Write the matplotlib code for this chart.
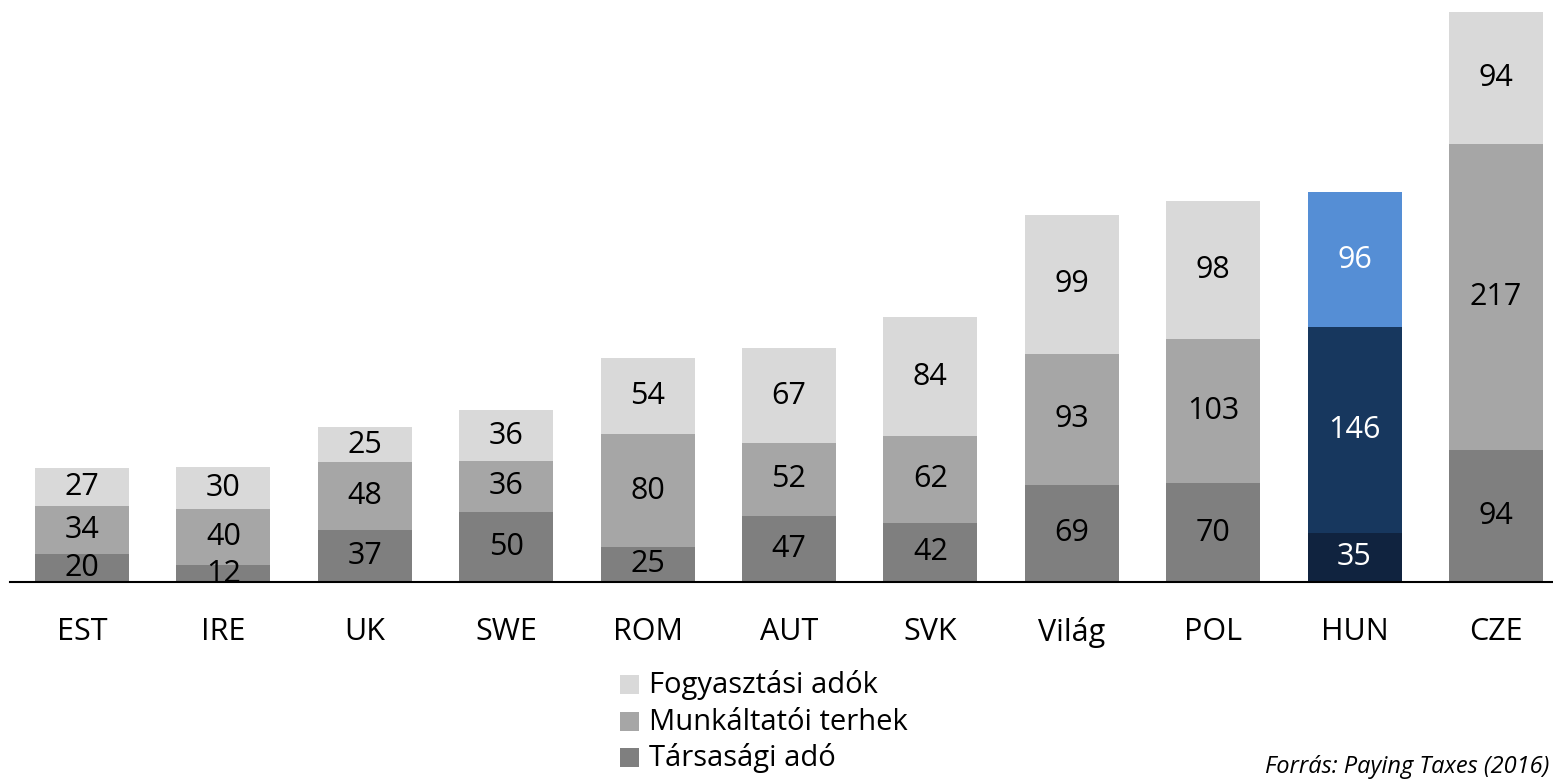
import matplotlib
matplotlib.use('Agg')
import matplotlib.pyplot as plt
from matplotlib.patches import Rectangle

plt.rcParams['font.family'] = ['Open Sans', 'DejaVu Sans']

countries = ['EST', 'IRE', 'UK', 'SWE', 'ROM', 'AUT', 'SVK', 'Világ', 'POL', 'HUN', 'CZE']
tarsasagi = [20, 12, 37, 50, 25, 47, 42, 69, 70, 35, 94]
munkaltatoi = [34, 40, 48, 36, 80, 52, 62, 93, 103, 146, 217]
fogyasztasi = [27, 30, 25, 36, 54, 67, 84, 99, 98, 96, 94]
series_names = ['Társasági adó', 'Munkáltatói terhek', 'Fogyasztási adók']
source = 'Forrás: Paying Taxes (2016)'

gray_cols = ['#7f7f7f', '#a6a6a6', '#d9d9d9']
hun_cols = ['#10233f', '#17375e', '#558ed5']

W, H = 1553, 783
fig = plt.figure(figsize=(W / 100, H / 100), dpi=100)
# axes: baseline at y=582px, top at 12px, x from 10px to right edge
ax = fig.add_axes([10 / W, (H - 582) / H, 1 - 10 / W, 570 / H])

x = list(range(len(countries)))
hi = countries.index('HUN')
bottom = [0] * len(countries)
for k, vals in enumerate([tarsasagi, munkaltatoi, fogyasztasi]):
    colors = [gray_cols[k]] * len(countries)
    colors[hi] = hun_cols[k]
    ax.bar(x, vals, bottom=bottom, width=0.665, color=colors, edgecolor='none')
    for i, v in enumerate(vals):
        tc = 'white' if i == hi else 'black'
        ax.text(i, bottom[i] + v / 2, str(v), ha='center', va='center',
                fontsize=22, color=tc)
    bottom = [b + v for b, v in zip(bottom, vals)]

ax.set_xlim(-0.509, 10.403)
ax.set_ylim(0, 405)
for s in ['top', 'right', 'left']:
    ax.spines[s].set_visible(False)
ax.spines['bottom'].set_color('black')
ax.spines['bottom'].set_linewidth(1.5)
ax.set_yticks([])
ax.set_xticks(x)
ax.set_xticklabels(countries, fontsize=22)
ax.tick_params(axis='x', length=0, pad=25)

# legend drawn by hand: light on top, dark at the bottom
legend_rows = [(684, gray_cols[2], series_names[2]),
               (721, gray_cols[1], series_names[1]),
               (757, gray_cols[0], series_names[0])]
for yc, col, name in legend_rows:
    fig.add_artist(Rectangle((620 / W, (H - yc - 9.5) / H), 19 / W, 19 / H,
                             transform=fig.transFigure, color=col, lw=0))
    fig.text(649 / W, (H - yc - 1) / H, name, fontsize=21, ha='left', va='center')

fig.text(1549 / W, (H - 773) / H, source, fontsize=17, style='italic',
         ha='right', va='baseline')

fig.savefig('out.png', dpi=100)
